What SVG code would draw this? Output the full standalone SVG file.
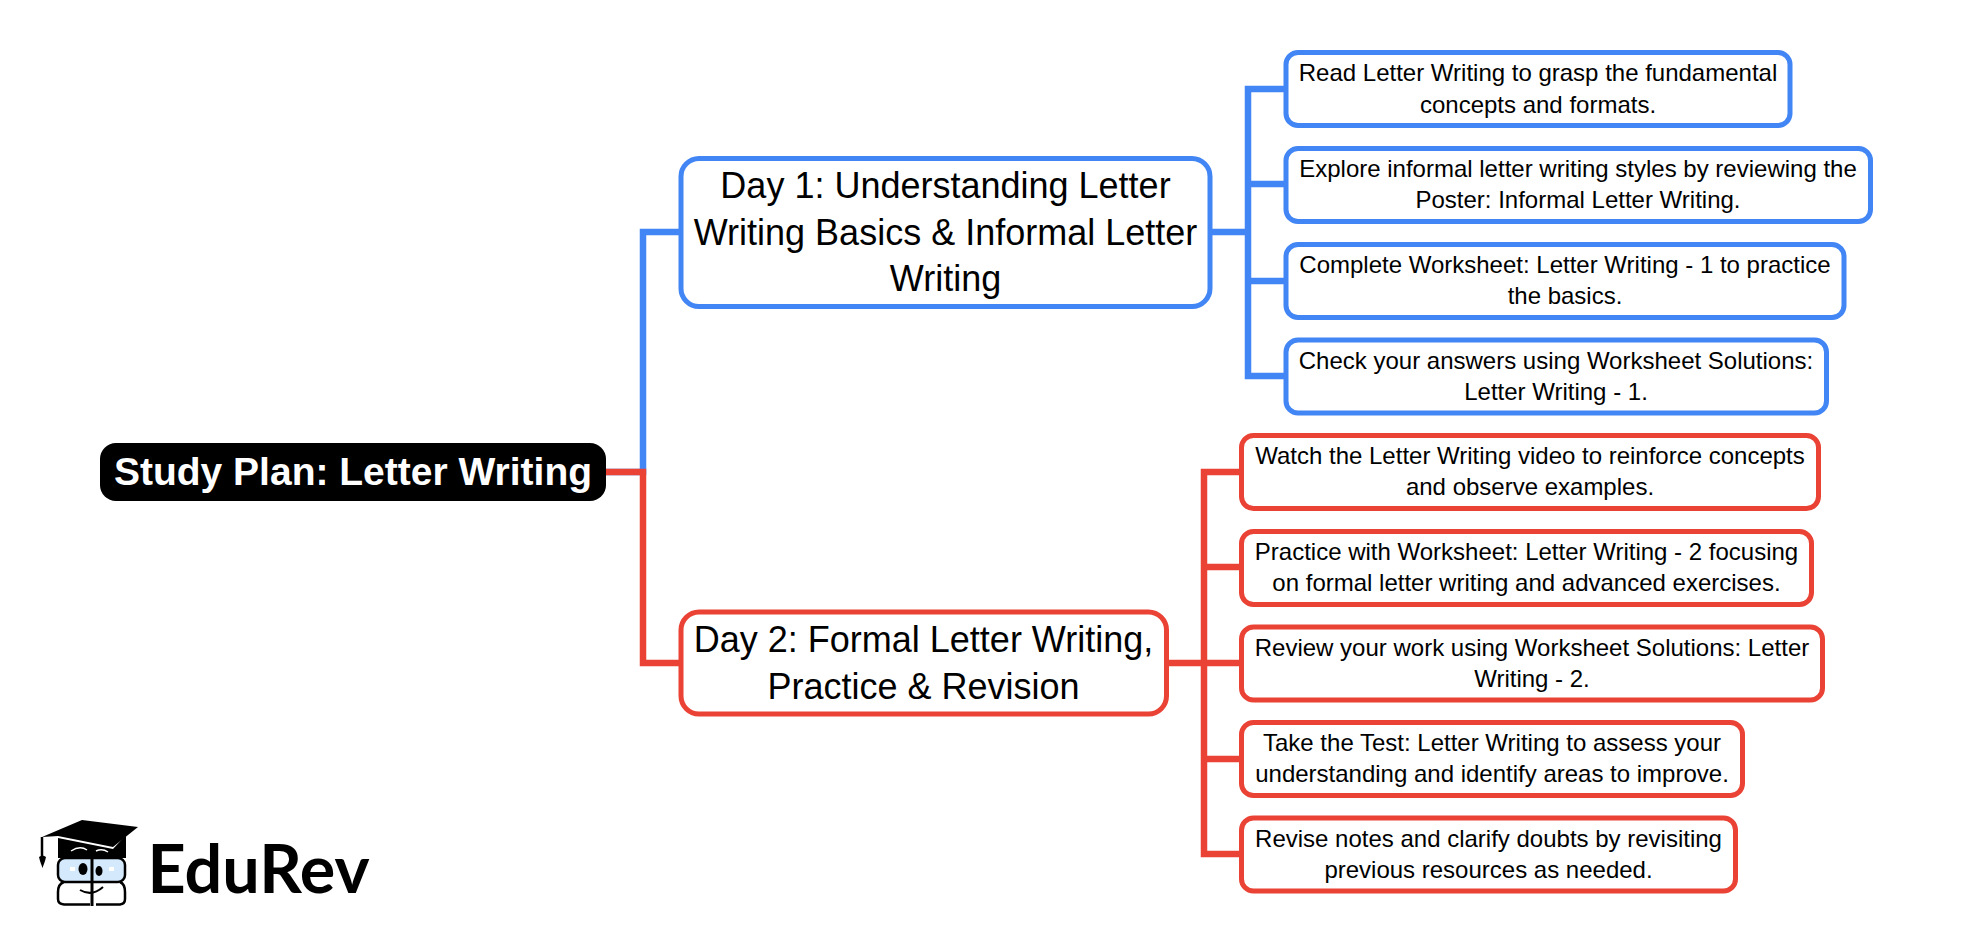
<svg xmlns="http://www.w3.org/2000/svg" width="1973" height="944" viewBox="0 0 1973 944">
<style>
text{font-family:"Liberation Sans",Arial,sans-serif;fill:#000;text-anchor:middle}
.c{font-size:24px}
.d{font-size:36px}
.r{font-size:39px;font-weight:bold;fill:#fff}
.b{fill:#fff;stroke:#4285f4;stroke-width:5}
.e{fill:#fff;stroke:#ea4335;stroke-width:5}
.lb{fill:none;stroke:#4285f4;stroke-width:6.500}
.le{fill:none;stroke:#ea4335;stroke-width:6.500}
</style>
<rect width="1973" height="944" fill="#fff"/>
<g id="connectors">
<path class="lb" d="M606 472H643V232H681"/>
<path class="le" d="M606 472H643V663H681"/>
<path class="lb" d="M1210 232H1248M1286 89H1248V376H1286M1248 184H1286M1248 281H1286"/>
<path class="le" d="M1166 663H1204M1241 472H1204V854H1241M1204 567H1241M1204 663H1241M1204 759H1241"/>
</g>
<g id="root"><rect x="100" y="443" width="506" height="58" rx="16" fill="#000"/><text class="r" x="353" y="485">Study Plan: Letter Writing</text></g>
<g id="day1"><rect class="b" x="681" y="158.500" width="529" height="148" rx="18"/><text class="d" x="945.500" y="198">Day 1: Understanding Letter</text><text class="d" x="945.500" y="245">Writing Basics &amp; Informal Letter</text><text class="d" x="945.500" y="291">Writing</text></g>
<g id="day2"><rect class="e" x="681" y="612" width="485.500" height="102" rx="18"/><text class="d" x="923.500" y="652">Day 2: Formal Letter Writing,</text><text class="d" x="923.500" y="698.500">Practice &amp; Revision</text></g>
<g id="b1"><rect class="b" x="1286" y="52.500" width="504" height="73" rx="12"/><text class="c" x="1538" y="81">Read Letter Writing to grasp the fundamental</text><text class="c" x="1538" y="113">concepts and formats.</text></g>
<g id="b2"><rect class="b" x="1286" y="148.500" width="584.500" height="73" rx="12"/><text class="c" x="1578" y="177">Explore informal letter writing styles by reviewing the</text><text class="c" x="1578" y="208">Poster: Informal Letter Writing.</text></g>
<g id="b3"><rect class="b" x="1286" y="244.500" width="558" height="73" rx="12"/><text class="c" x="1565" y="273">Complete Worksheet: Letter Writing - 1 to practice</text><text class="c" x="1565" y="304">the basics.</text></g>
<g id="b4"><rect class="b" x="1286" y="340" width="540.500" height="73" rx="12"/><text class="c" x="1556" y="369">Check your answers using Worksheet Solutions:</text><text class="c" x="1556" y="400">Letter Writing - 1.</text></g>
<g id="r1"><rect class="e" x="1241.500" y="435.500" width="577" height="73" rx="12"/><text class="c" x="1530" y="464">Watch the Letter Writing video to reinforce concepts</text><text class="c" x="1530" y="495">and observe examples.</text></g>
<g id="r2"><rect class="e" x="1241.500" y="531.500" width="570" height="73" rx="12"/><text class="c" x="1526.500" y="560">Practice with Worksheet: Letter Writing - 2 focusing</text><text class="c" x="1526.500" y="591">on formal letter writing and advanced exercises.</text></g>
<g id="r3"><rect class="e" x="1241.500" y="627" width="581" height="73" rx="12"/><text class="c" x="1532" y="656">Review your work using Worksheet Solutions: Letter</text><text class="c" x="1532" y="687">Writing - 2.</text></g>
<g id="r4"><rect class="e" x="1241.500" y="722.500" width="501" height="73" rx="12"/><text class="c" x="1492" y="751">Take the Test: Letter Writing to assess your</text><text class="c" x="1492" y="782">understanding and identify areas to improve.</text></g>
<g id="r5"><rect class="e" x="1241.500" y="818" width="494" height="73" rx="12"/><text class="c" x="1488.500" y="847">Revise notes and clarify doubts by revisiting</text><text class="c" x="1488.500" y="878">previous resources as needed.</text></g>
<g id="logo">
<path d="M58 838V858H126V835L113 849Z" fill="#000"/>
<path d="M42 837L82 820L138 827L113 847L58 836Z" fill="#000"/>
<path d="M42 837V858" stroke="#000" stroke-width="2.500" fill="none"/>
<path d="M39 857Q42.500 854 46 857L45 861L42.500 868L40 861Z" fill="#000"/>
<path d="M71 851Q80 845 87 850M96 851Q102 848 108 852" stroke="#fff" stroke-width="1.500" fill="none"/>
<rect x="58" y="858" width="67" height="24" rx="7" fill="#d4e9fb" stroke="#000" stroke-width="2.500"/>
<path d="M64 882Q58 884 58 892V899Q58 904 64 904.500H90M96 904.500H120Q125 904 125 899V892Q125 884 120 882" stroke="#000" stroke-width="2.500" fill="none"/>
<path d="M92 855V906" stroke="#000" stroke-width="3" fill="none"/>
<ellipse cx="83" cy="869" rx="4.500" ry="6" fill="#000"/><ellipse cx="99" cy="871" rx="3.500" ry="5" fill="#000"/>
<path d="M80 890Q92 897 103 887" stroke="#000" stroke-width="2" fill="none"/>
<rect x="70" y="867" width="5" height="4" fill="#fff"/><rect x="109" y="867" width="5" height="4" fill="#fff"/>
<text x="147.500" y="893" style="font-family:Lato,'Open Sans',sans-serif;font-weight:700;font-size:66.500px;text-anchor:start">EduRev</text>
</g>
</svg>
